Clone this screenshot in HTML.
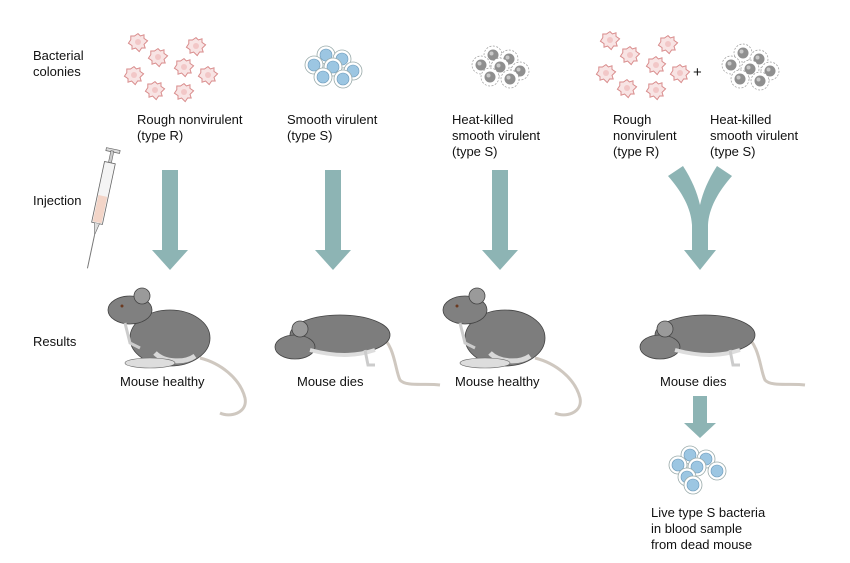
<!DOCTYPE html>
<html><head><meta charset="utf-8"><style>
html,body{margin:0;padding:0;background:#fff;width:850px;height:563px;overflow:hidden}
svg text{font-family:"Liberation Sans",Arial,sans-serif;font-size:13px;fill:#111}
</style></head><body>
<svg width="850" height="563" viewBox="0 0 850 563" xmlns="http://www.w3.org/2000/svg">
<defs>
<g id="rough" transform="scale(1.2)"><path d="M0,-7 L2,-5 L5,-6 L5,-3 L8,-1 L5,2 L6,5 L3,5 L1,8 L-2,5 L-5,6 L-5,3 L-8,1 L-6,-2 L-6,-5 L-3,-5 Z" fill="#f8e4e4" stroke="#d88a8a" stroke-width="0.8"/><circle r="2.5" fill="#f2c7c7"/></g>
<g id="rc"><use href="#rough" x="0" y="0"/><use href="#rough" x="20" y="15"/><use href="#rough" x="-4" y="33"/><use href="#rough" x="46" y="25"/><use href="#rough" x="58" y="4"/><use href="#rough" x="17" y="48"/><use href="#rough" x="46" y="50"/><use href="#rough" x="70" y="33"/></g>
<g id="smooth"><circle r="9" fill="#fff" stroke="#9aa" stroke-width="0.8"/><circle r="6" fill="#9cc6e2" stroke="#6a98b8" stroke-width="0.6"/></g>
<g id="hk"><circle r="9" fill="#fff" stroke="#999" stroke-width="0.7" stroke-dasharray="2,1.5"/><circle r="5.5" fill="#8f8f8f"/><circle cx="-1.5" cy="-1.5" r="2" fill="#c8c8c8"/></g>
<g id="healthy">
<path d="M40,40 C60,45 80,60 85,80 C88,95 70,100 60,95" fill="none" stroke="#cfc8c0" stroke-width="3"/>
<ellipse cx="10" cy="20" rx="40" ry="28" fill="#7d7d7d" stroke="#444" stroke-width="0.8"/>
<path d="M-5,35 C5,45 25,45 35,38" fill="none" stroke="#d8d8d8" stroke-width="5"/>
<ellipse cx="-30" cy="-8" rx="22" ry="14" fill="#808080" stroke="#444" stroke-width="0.8"/>
<circle cx="-18" cy="-22" r="8" fill="#9a9a9a" stroke="#444" stroke-width="0.8"/>
<circle cx="-38" cy="-12" r="1.5" fill="#6b3a20"/>
<ellipse cx="-10" cy="45" rx="25" ry="5" fill="#ddd" stroke="#666" stroke-width="0.6"/>
<path d="M-35,5 L-30,25 L-20,30" fill="none" stroke="#ccc" stroke-width="3"/>
</g>
<g id="dead">
<path d="M40,10 C55,20 55,45 60,55 C66,62 85,58 100,60" fill="none" stroke="#cfc8c0" stroke-width="3"/>
<ellipse cx="0" cy="10" rx="50" ry="20" fill="#7d7d7d" stroke="#444" stroke-width="0.8"/>
<ellipse cx="-45" cy="22" rx="20" ry="12" fill="#808080" stroke="#444" stroke-width="0.8"/>
<circle cx="-40" cy="4" r="8" fill="#9a9a9a" stroke="#444" stroke-width="0.8"/>
<path d="M-30,25 C0,33 20,30 35,25" fill="none" stroke="#ddd" stroke-width="4"/>
<path d="M25,25 L28,40 L35,40" fill="none" stroke="#ccc" stroke-width="3"/>
</g>
<path id="arr" d="M-8,0 H8 V80 H18 L0,100 L-18,80 H-8 Z" fill="#8db4b4"/>
</defs>

<text x="33" y="60">Bacterial</text><text x="33" y="76">colonies</text>
<text x="33" y="205">Injection</text>
<text x="33" y="346">Results</text>

<use href="#rc" x="138" y="42"/>
<text x="137" y="124">Rough nonvirulent</text><text x="137" y="140">(type R)</text>

<g transform="translate(333,67)"><use href="#smooth" x="-7" y="-12"/><use href="#smooth" x="9" y="-8"/><use href="#smooth" x="-19" y="-2"/><use href="#smooth" x="0" y="0"/><use href="#smooth" x="20" y="4"/><use href="#smooth" x="-10" y="10"/><use href="#smooth" x="10" y="12"/></g>
<text x="287" y="124">Smooth virulent</text><text x="287" y="140">(type S)</text>

<g transform="translate(500,67)"><use href="#hk" x="-7" y="-12"/><use href="#hk" x="9" y="-8"/><use href="#hk" x="-19" y="-2"/><use href="#hk" x="0" y="0"/><use href="#hk" x="20" y="4"/><use href="#hk" x="-10" y="10"/><use href="#hk" x="10" y="12"/></g>
<text x="452" y="124">Heat-killed</text><text x="452" y="140">smooth virulent</text><text x="452" y="156">(type S)</text>

<use href="#rc" x="610" y="40"/>
<text x="693" y="77" style="font-size:15px">+</text>
<g transform="translate(750,67)"><use href="#hk" x="-7" y="-14"/><use href="#hk" x="9" y="-8"/><use href="#hk" x="-19" y="-2"/><use href="#hk" x="0" y="2"/><use href="#hk" x="20" y="4"/><use href="#hk" x="-10" y="12"/><use href="#hk" x="10" y="14"/></g>
<text x="613" y="124">Rough</text><text x="613" y="140">nonvirulent</text><text x="613" y="156">(type R)</text>
<text x="710" y="124">Heat-killed</text><text x="710" y="140">smooth virulent</text><text x="710" y="156">(type S)</text>

<g transform="translate(108,150) rotate(12)">
<rect x="-2" y="-2" width="14" height="3" fill="#ddd" stroke="#666" stroke-width="0.7"/>
<rect x="3" y="0" width="3" height="12" fill="#ccc" stroke="#666" stroke-width="0.6"/>
<rect x="-1" y="12" width="11" height="62" fill="#f4f4f4" stroke="#666" stroke-width="0.8"/>
<rect x="0" y="46" width="9" height="27" fill="#f3d5c8"/>
<path d="M2,74 L4.5,86 L7,74" fill="#ddd" stroke="#666" stroke-width="0.6"/>
<line x1="4.5" y1="86" x2="4.5" y2="120" stroke="#777" stroke-width="1"/>
</g>

<use href="#arr" x="170" y="170"/>
<use href="#arr" x="333" y="170"/>
<use href="#arr" x="500" y="170"/>
<path d="M668,176 L683,166 C692,180 697,192 700,205 C703,192 708,180 717,166 L732,176 C718,192 709,208 708,225 V250 H716 L700,270 L684,250 H692 V225 C691,208 682,192 668,176 Z" fill="#8db4b4"/>
<path d="M693,396 H707 V423 H716 L700,438 L684,423 H693 Z" fill="#8db4b4"/>

<use href="#healthy" x="160" y="318"/>
<use href="#dead" x="340" y="325"/>
<use href="#healthy" x="495" y="318"/>
<use href="#dead" x="705" y="325"/>

<text x="120" y="386">Mouse healthy</text>
<text x="297" y="386">Mouse dies</text>
<text x="455" y="386">Mouse healthy</text>
<text x="660" y="386">Mouse dies</text>

<g transform="translate(697,467)"><use href="#smooth" x="-7" y="-12"/><use href="#smooth" x="9" y="-8"/><use href="#smooth" x="-19" y="-2"/><use href="#smooth" x="0" y="0"/><use href="#smooth" x="20" y="4"/><use href="#smooth" x="-10" y="10"/><use href="#smooth" x="-4" y="18"/></g>
<text x="651" y="517">Live type S bacteria</text>
<text x="651" y="533">in blood sample</text>
<text x="651" y="549">from dead mouse</text>
</svg>
</body></html>
